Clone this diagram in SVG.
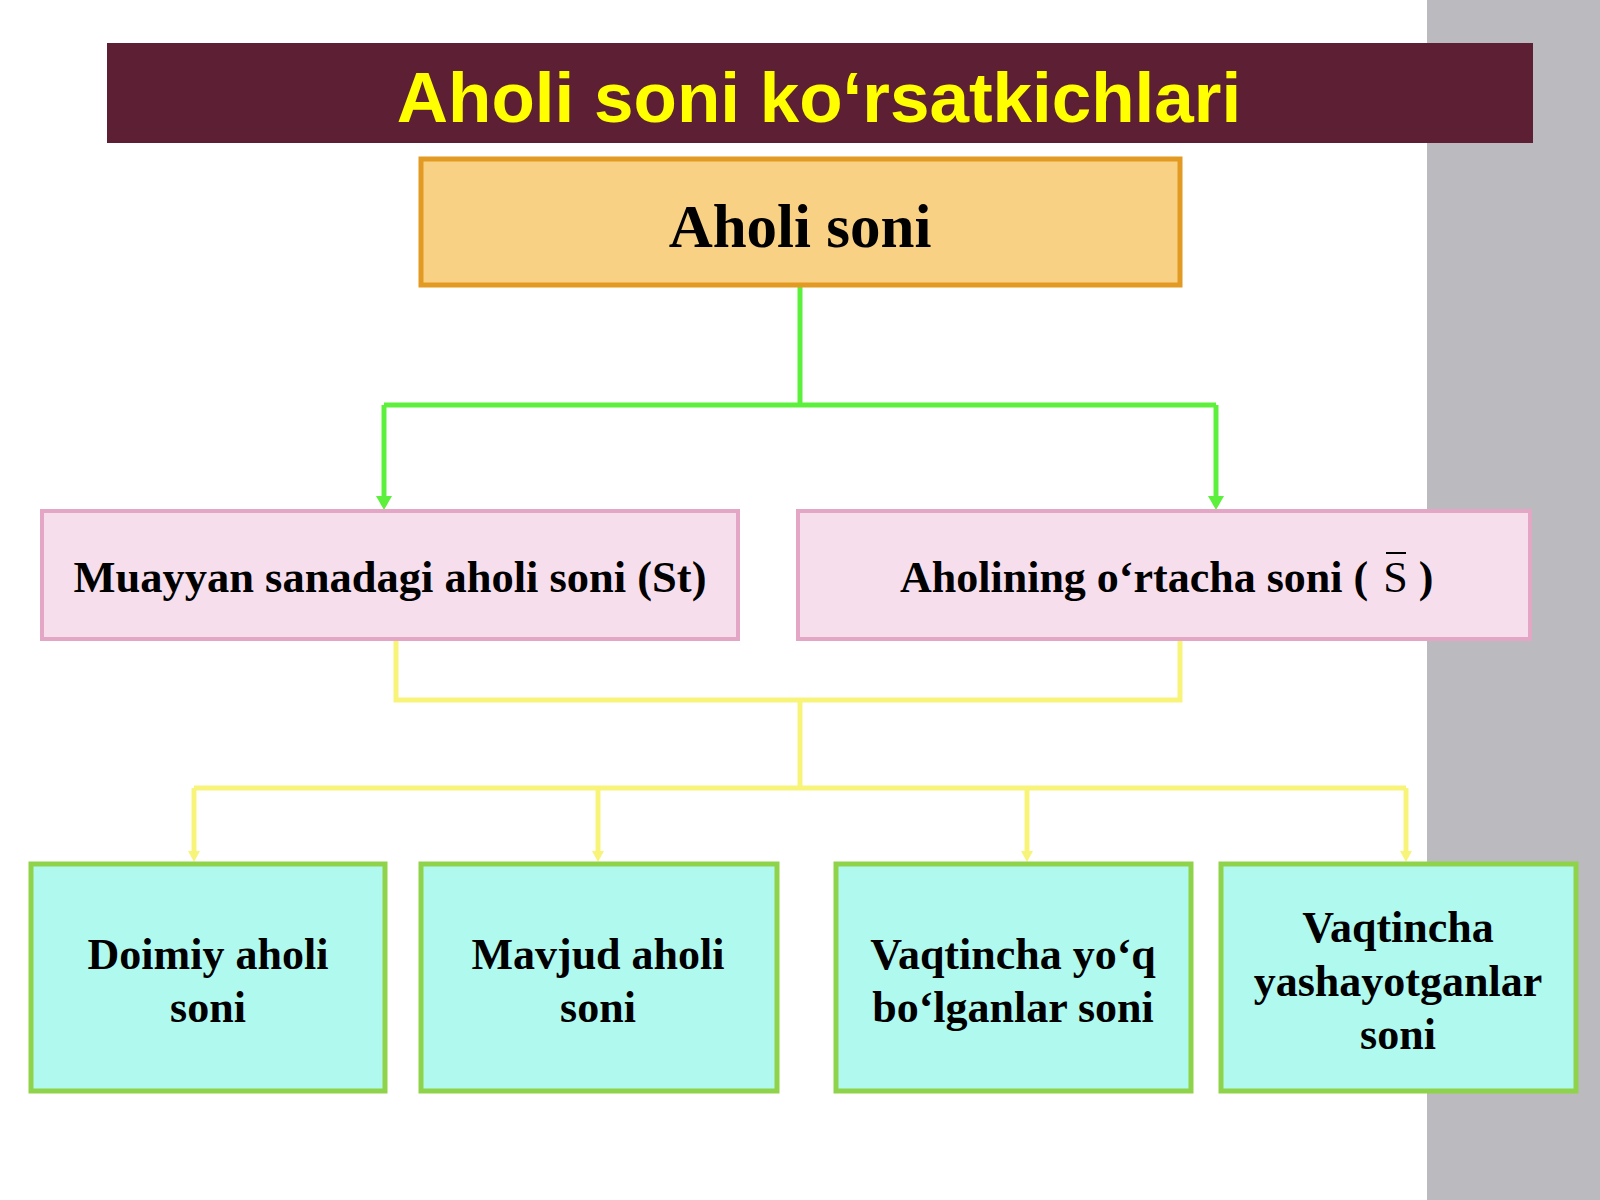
<svg xmlns="http://www.w3.org/2000/svg" width="1600" height="1200" viewBox="0 0 1600 1200">
<style>
.serif{font-family:"Liberation Serif","Times New Roman",serif;font-weight:bold;fill:#000}
.pink{fill:#f7deec;stroke:#e3a6c4;stroke-width:4}
.cyan{fill:#b0f9ef;stroke:#8fd34a;stroke-width:5}
.g{fill:none;stroke:#5cf03c;stroke-width:5}
.y{fill:none;stroke:#f8f47a;stroke-width:5}
</style>
<defs>
<marker id="ag" markerWidth="20" markerHeight="20" refX="0" refY="0" orient="auto" markerUnits="userSpaceOnUse" overflow="visible">
<path d="M-1,-8 L13,0 L-1,8 Z" fill="#5cf03c"/>
</marker>
<marker id="ay" markerWidth="20" markerHeight="20" refX="0" refY="0" orient="auto" markerUnits="userSpaceOnUse" overflow="visible">
<path d="M-1,-6 L10,0 L-1,6 Z" fill="#f8f47a"/>
</marker>
</defs>
<rect x="0" y="0" width="1600" height="1200" fill="#ffffff"/>
<rect id="side-panel" x="1427" y="0" width="173" height="1200" fill="#bbbbbf"/>
<g id="title">
<rect x="107" y="43" width="1426" height="100" fill="#5c1f33"/>
<text x="819" y="122" text-anchor="middle" font-family="'Liberation Sans',Arial,sans-serif" font-weight="bold" font-size="71" fill="#ffff00">Aholi soni ko‘rsatkichlari</text>
</g>
<g id="connectors">
<path class="g" d="M800,286 V405 M384,405 H1216"/>
<path class="g" d="M384,405 V497" marker-end="url(#ag)"/>
<path class="g" d="M1216,405 V497" marker-end="url(#ag)"/>
<path class="y" d="M396,640 V700 H1180 V640 M800,700 V788 M194,788 H1406"/>
<path class="y" d="M194,788 V852" marker-end="url(#ay)"/>
<path class="y" d="M598,788 V852" marker-end="url(#ay)"/>
<path class="y" d="M1027,788 V852" marker-end="url(#ay)"/>
<path class="y" d="M1406,788 V852" marker-end="url(#ay)"/>
</g>
<g id="node-aholi-soni">
<rect x="421" y="159" width="759" height="126" fill="#f9d184" stroke="#e39a22" stroke-width="5"/>
<text class="serif" x="800" y="247" text-anchor="middle" font-size="61">Aholi soni</text>
</g>
<g id="node-muayyan">
<rect class="pink" x="42" y="511" width="696" height="128"/>
<text class="serif" x="390" y="592" text-anchor="middle" font-size="44.5">Muayyan sanadagi aholi soni (St)</text>
</g>
<g id="node-ortacha">
<rect class="pink" x="798" y="511" width="732" height="128"/>
<text class="serif" x="900" y="592" font-size="44">Aholining o‘rtacha soni ( <tspan font-weight="normal" dx="4">S</tspan> )</text>
<line x1="1386" y1="553" x2="1406" y2="553" stroke="#000" stroke-width="2"/>
</g>
<g id="node-doimiy">
<rect class="cyan" x="31" y="864" width="354" height="227"/>
<text class="serif" text-anchor="middle" font-size="44"><tspan x="208" y="969">Doimiy aholi</tspan><tspan x="208" y="1022">soni</tspan></text>
</g>
<g id="node-mavjud">
<rect class="cyan" x="421" y="864" width="356" height="227"/>
<text class="serif" text-anchor="middle" font-size="44"><tspan x="598" y="969">Mavjud aholi</tspan><tspan x="598" y="1022">soni</tspan></text>
</g>
<g id="node-vaqtincha-yoq">
<rect class="cyan" x="836" y="864" width="355" height="227"/>
<text class="serif" text-anchor="middle" font-size="44"><tspan x="1013" y="969">Vaqtincha yo‘q</tspan><tspan x="1013" y="1022">bo‘lganlar soni</tspan></text>
</g>
<g id="node-vaqtincha-yashayotgan">
<rect class="cyan" x="1221" y="864" width="355" height="227"/>
<text class="serif" text-anchor="middle" font-size="44"><tspan x="1398" y="942">Vaqtincha</tspan><tspan x="1398" y="996">yashayotganlar</tspan><tspan x="1398" y="1049">soni</tspan></text>
</g>
</svg>
